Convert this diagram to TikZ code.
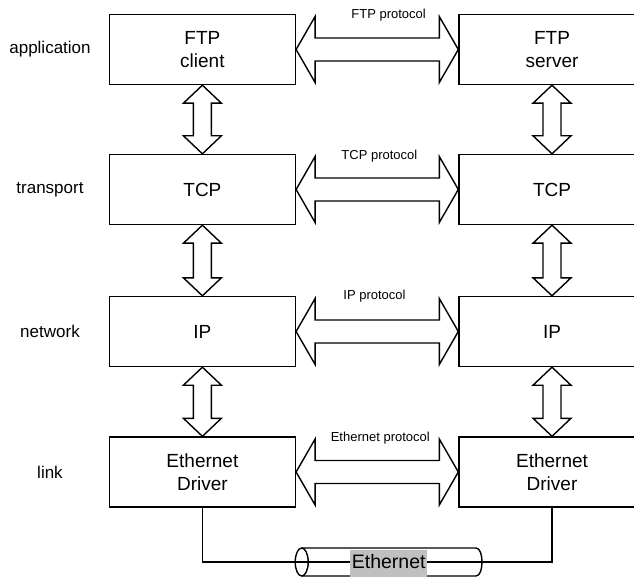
\documentclass[tikz,border=0pt]{standalone}
\usepackage{fontspec}
\setmainfont{Liberation Sans}
\usetikzlibrary{calc}
\definecolor{silver}{RGB}{192,192,192}

% fat two-headed arrow between two nodes side by side
\newcommand\hblock[2]{%
  \draw[blockarrow] (#1.east) -- ($(#1.east)+(19,-33)$) -- ($(#1.east)+(19,-11.5)$)
    -- ($(#2.west)+(-19,-11.5)$) -- ($(#2.west)+(-19,-33)$) -- (#2.west)
    -- ($(#2.west)+(-19,33)$) -- ($(#2.west)+(-19,11.5)$)
    -- ($(#1.east)+(19,11.5)$) -- ($(#1.east)+(19,33)$) -- cycle;}
% fat two-headed arrow between two stacked nodes
\newcommand\vblock[2]{%
  \draw[blockarrow] (#1.south) -- ($(#1.south)+(19,18)$) -- ($(#1.south)+(9,18)$)
    -- ($(#2.north)+(9,-18)$) -- ($(#2.north)+(19,-18)$) -- (#2.north)
    -- ($(#2.north)+(-19,-18)$) -- ($(#2.north)+(-9,-18)$)
    -- ($(#1.south)+(-9,18)$) -- ($(#1.south)+(-19,18)$) -- cycle;}

\begin{document}
\begin{tikzpicture}[x=1pt,y=-1pt,
  layerbox/.style={draw, line width=1.4pt, minimum width=186pt, minimum height=70pt,
    inner sep=0pt, align=center, font=\fontsize{19}{23}\selectfont},
  sidelabel/.style={font=\fontsize{17}{20}\selectfont, inner sep=0pt},
  protolabel/.style={font=\fontsize{13}{15}\selectfont, inner sep=0pt, anchor=base},
  blockarrow/.style={draw, fill=white, line width=1.4pt, line join=miter},
  wire/.style={line width=1.4pt}]

\useasboundingbox (0,0) rectangle (634,577);
\clip (0,0) rectangle (634,577);

% layer names
\node[sidelabel] (lapp) at (50,49.5)  {application};
\node[sidelabel] (ltra) at (50,189.5) {transport};
\node[sidelabel] (lnet) at (50,331.5) {network};
\node[sidelabel] (llnk) at (50,472)   {link};

% client side stack
\node[layerbox] (c1) at (202.4,49.5)  {FTP\\client};
\node[layerbox] (c2) at (202.4,189.5) {TCP};
\node[layerbox] (c3) at (202.4,331.5) {IP};
\node[layerbox] (c4) at (202.4,472)   {Ethernet\\Driver};

% server side stack
\node[layerbox] (s1) at (552,49.5)  {FTP\\server};
\node[layerbox] (s2) at (552,189.5) {TCP};
\node[layerbox] (s3) at (552,331.5) {IP};
\node[layerbox] (s4) at (552,472)   {Ethernet\\Driver};

% peer protocols
\hblock{c1}{s1}
\hblock{c2}{s2}
\hblock{c3}{s3}
\hblock{c4}{s4}
\node[protolabel] (p1) at (388.6,18.6)  {FTP protocol};
\node[protolabel] (p2) at (379.4,159.6) {TCP protocol};
\node[protolabel] (p3) at (374.5,299.4) {IP protocol};
\node[protolabel] (p4) at (380.3,441)   {Ethernet protocol};

% interfaces between layers
\vblock{c1}{c2}
\vblock{c2}{c3}
\vblock{c3}{c4}
\vblock{s1}{s2}
\vblock{s2}{s3}
\vblock{s3}{s4}

% the cable
\coordinate (bus) at (0,562);
\draw[wire] (c4.south) -- (c4.south |- bus) -- (s4.south |- bus) -- (s4.south);
\draw[wire] (301.7,548) -- (476,548)
  .. controls (484,548) and (484,576) .. (476,576) -- (301.7,576);
\draw[wire] (301.7,562) ellipse [x radius=6.5, y radius=14];
\node[fill=silver, inner xsep=1.5pt, inner ysep=0pt, text height=18pt, text depth=10pt,
  anchor=base, font=\fontsize{19.5}{23}\selectfont] (eth) at (388.7,568) {Ethernet};
\end{tikzpicture}
\end{document}
